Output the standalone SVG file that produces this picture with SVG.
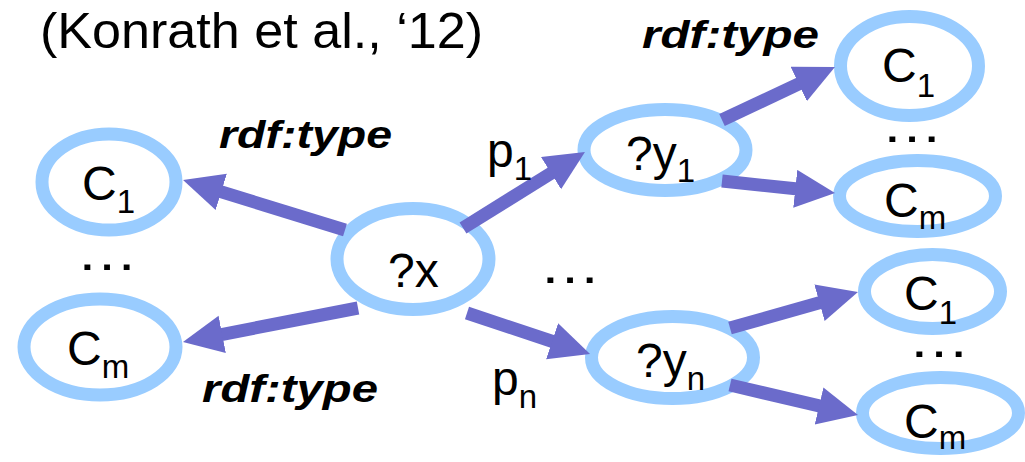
<svg xmlns="http://www.w3.org/2000/svg" width="1025" height="462" viewBox="0 0 1025 462">
  <style>
    .node { fill: #ffffff; stroke: #99CCFF; stroke-width: 13; }
    .lbl { font-family: "Liberation Sans", Arial, sans-serif; font-size: 48px; fill: #000000; }
    .sub { font-size: 33px; }
    .dots { font-family: "Liberation Sans", Arial, sans-serif; font-size: 52px; fill: #000000; }
    .rel { font-family: "Liberation Sans", Arial, sans-serif; font-size: 39px; font-weight: bold; font-style: italic; fill: #000000; }
    .title { font-family: "Liberation Sans", Arial, sans-serif; font-size: 50px; fill: #000000; }
    .edge { stroke: #6B6BCB; stroke-width: 13; fill: none; marker-end: url(#head); }
  </style>
  <defs>
    <marker id="head" markerUnits="userSpaceOnUse" markerWidth="42" markerHeight="40" refX="10" refY="19" orient="auto">
      <path d="M0,0 L40,19 L0,38 z" fill="#6B6BCB"/>
    </marker>
  </defs>

  <rect width="1025" height="462" fill="#ffffff"/>

  <text class="title" x="40" y="48" textLength="443" lengthAdjust="spacingAndGlyphs">(Konrath et al., ‘12)</text>

  <!-- nodes -->
  <g id="c1-left">
    <ellipse class="node" cx="109" cy="182" rx="67" ry="48"/>
    <text class="lbl" x="82" y="200">C<tspan class="sub" dy="13">1</tspan></text>
  </g>
  <g id="cm-left">
    <ellipse class="node" cx="100" cy="347" rx="76" ry="48"/>
    <text class="lbl" x="67" y="365">C<tspan class="sub" dy="13">m</tspan></text>
  </g>
  <g id="x">
    <ellipse class="node" cx="413" cy="259" rx="76" ry="50.5"/>
    <text class="lbl" x="388" y="287">?x</text>
  </g>
  <g id="y1">
    <ellipse class="node" cx="665" cy="150" rx="81" ry="40.5"/>
    <text class="lbl" x="626" y="170">?y<tspan class="sub" dy="12">1</tspan></text>
  </g>
  <g id="yn">
    <ellipse class="node" cx="672.5" cy="357.5" rx="81" ry="41"/>
    <text class="lbl" x="636" y="377">?y<tspan class="sub" dy="13">n</tspan></text>
  </g>
  <g id="c1-y1">
    <ellipse class="node" cx="909.5" cy="66" rx="69" ry="49.5"/>
    <text class="lbl" x="882" y="82">C<tspan class="sub" dy="15">1</tspan></text>
  </g>
  <g id="cm-y1">
    <ellipse class="node" cx="917.5" cy="196" rx="78" ry="35.5"/>
    <text class="lbl" x="884" y="217">C<tspan class="sub" dy="12">m</tspan></text>
  </g>
  <g id="c1-yn">
    <ellipse class="node" cx="932.5" cy="291.5" rx="68" ry="37"/>
    <text class="lbl" x="904" y="310">C<tspan class="sub" dy="14">1</tspan></text>
  </g>
  <g id="cm-yn">
    <ellipse class="node" cx="940.5" cy="413" rx="78" ry="35.5"/>
    <text class="lbl" x="904" y="438">C<tspan class="sub" dy="11">m</tspan></text>
  </g>

  <!-- connectors -->
  <g id="edges">
    <line class="edge" x1="345" y1="230" x2="211.7" y2="188.9"/>
    <line class="edge" x1="358" y1="308" x2="212.4" y2="336.3"/>
    <line class="edge" x1="463" y1="228" x2="559.5" y2="167.9"/>
    <line class="edge" x1="467" y1="313" x2="561.6" y2="344.5"/>
    <line class="edge" x1="722" y1="120" x2="807.8" y2="79.7"/>
    <line class="edge" x1="722" y1="181" x2="805.2" y2="189.8"/>
    <line class="edge" x1="730" y1="328" x2="829.1" y2="300.1"/>
    <line class="edge" x1="730" y1="385" x2="828.8" y2="408.2"/>
  </g>

  <!-- connector labels -->
  <text class="rel" x="219" y="148" textLength="173" lengthAdjust="spacingAndGlyphs">rdf:type</text>
  <text class="rel" x="202" y="402" textLength="176" lengthAdjust="spacingAndGlyphs">rdf:type</text>
  <text class="rel" x="642" y="48" textLength="177" lengthAdjust="spacingAndGlyphs">rdf:type</text>
  <text class="lbl" x="487" y="167">p<tspan class="sub" dy="13">1</tspan></text>
  <text class="lbl" x="492" y="395">p<tspan class="sub" dy="13">n</tspan></text>

  <!-- elisions -->
  <text class="dots" x="76" y="270" textLength="62" lengthAdjust="spacingAndGlyphs">…</text>
  <text class="dots" x="539" y="283" textLength="62" lengthAdjust="spacingAndGlyphs">…</text>
  <text class="dots" x="881" y="142" textLength="62" lengthAdjust="spacingAndGlyphs">…</text>
  <text class="dots" x="908" y="357" textLength="62" lengthAdjust="spacingAndGlyphs">…</text>
</svg>
